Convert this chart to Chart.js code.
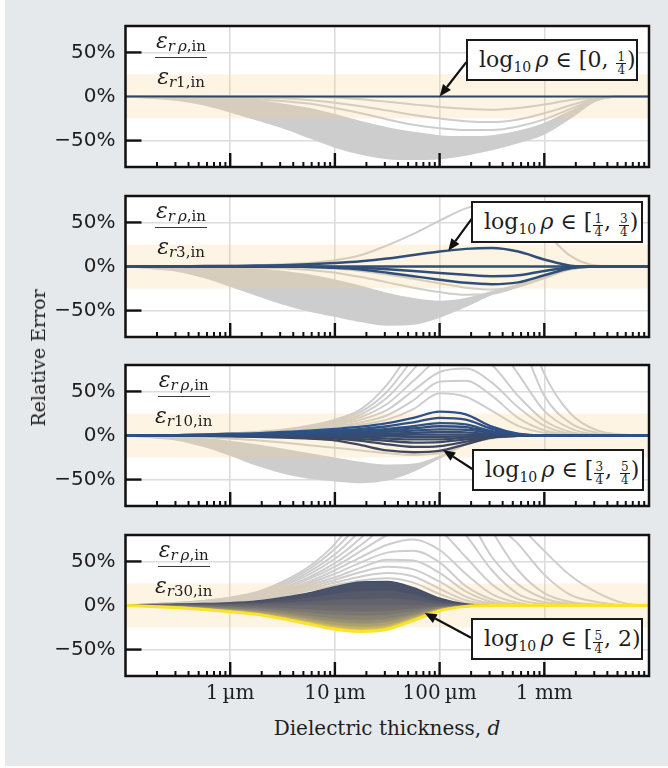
<!DOCTYPE html>
<html>
<head>
<meta charset="utf-8">
<script src="https://cdn.jsdelivr.net/npm/chart.js@4.4.1/dist/chart.umd.min.js"></script>
<style>
  html, body { margin: 0; padding: 0; background: #ffffff; }
  #page { position: relative; width: 668px; height: 768px; overflow: hidden; }
  #sheet { position: absolute; left: 5px; top: 0; width: 663px; height: 766px; background: #e6e9ec; }
  canvas.panel { position: absolute; left: 0; }
  .txt { position: absolute; font-family: 'DejaVu Serif', serif; color: #1e1e1e; white-space: nowrap; z-index: 2; }
  .frac { display: flex; flex-direction: column; align-items: center; }
  .frac .num { font-size: 22px; line-height: 24px; padding: 0 1px 4px 1px; border-bottom: 1.4px solid #3a3a3a; }
  .frac .den { font-size: 22px; line-height: 24px; padding-top: 7px; }
  .frac sub { font-size: 15px; vertical-align: -3px; line-height: 0; }
  .note { background: #fff; border: 2px solid #1a1a1a; font-size: 22px; width: 172px; height: 42px; line-height: 38px; padding: 0 0 0 11px; box-sizing: border-box; }
  .note sub { font-size: 14px; vertical-align: -5px; line-height: 0; }
  .sfrac { display: inline-block; font-size: 12px; line-height: 12px; text-align: center; vertical-align: -7px; margin: 0 1px; }
  .sfrac span { display: block; padding: 0 1px; }
  .sfrac span.n { border-bottom: 1px solid #1e1e1e; }
  #ytitle { font-size: 19px; transform: translate(-50%, -50%) rotate(-90deg); left: 38px; top: 358px; }
  #xtitle { font-size: 20px; transform: translateX(-50%); left: 387px; top: 716px; }
</style>
</head>
<body>
<div id="page">
  <div id="sheet"></div>
</div>
<script>
// Thickness grid (m), quarter-decade steps from 100 nm to 10 mm
const THICKNESS_M = [1e-7, 1.778e-7, 3.162e-7, 5.623e-7, 1e-6, 1.778e-6, 3.162e-6, 5.623e-6,
  1e-5, 1.778e-5, 3.162e-5, 5.623e-5, 1e-4, 1.778e-4, 3.162e-4, 5.623e-4,
  1e-3, 1.778e-3, 3.162e-3, 5.623e-3, 1e-2];

const REFERENCE_RHO = ['1', '3', '10', '30'];
const HIGHLIGHT_FROM = ['0', '1/4', '3/4', '5/4'];
const HIGHLIGHT_TO = ['1/4', '3/4', '5/4', '2'];
const X_TICK_VALUES = [1e-6, 1e-5, 1e-4, 1e-3];
const X_TICK_LABELS = ['1\u2009µm', '10\u2009µm', '100\u2009µm', '1 mm'];
const X_DECADES = [1e-7, 1e-6, 1e-5, 1e-4, 1e-3];
const Y_TICK_VALUES = [-50, 0, 50];
const Y_TICK_LABELS = ['\u221250%', '0%', '50%'];
const TOLERANCE_PCT = [-25, 25];

// Annotation arrows: tip on a highlighted curve, tail at the label box (thickness m, error %)
const ARROW_TIP = [[1e-4, 0], [1.21e-4, 17.8], [1.08e-4, -16.5], [7.2e-5, -8.4]];
const ARROW_TAIL = [[1.8e-4, 39], [2.04e-4, 54.5], [2.05e-4, -38], [2.0e-4, -36.5]];

// ---- Panel 1: reference rho = 1 (relative error, %) ----
const P1_GREY = [
  [0,0,0,0,0,0,0,-0.5,-1,-3,-6,-9,-12,-14,-15,-13,-9,-4,-1,0,0],
  [0,0,0,0,-0.5,-1,-2,-4,-7,-11,-16,-21,-25,-28,-29,-26,-19,-10,-2,0,0],
  [0,0,0,-0.5,-1.5,-3,-5,-8,-13,-19,-26,-32,-36,-38,-38,-34,-26,-14,-3,0,0],
  [0,0,-0.5,-1.5,-3,-5,-9,-14,-21,-29,-36,-41,-45,-46,-45,-40,-31,-17,-3,0,0],
  [0,-0.5,-1,-2.5,-5,-8,-13,-20,-29,-38,-45,-50,-52,-52,-50,-44,-34,-19,-4,0,0],
  [0,-0.5,-1.5,-4,-8,-13,-19,-28,-38,-47,-54,-58,-59,-58,-54,-47,-37,-21,-4,0,0],
  [0,-1,-3,-6,-12,-19,-27,-37,-48,-56,-62,-65,-65,-63,-58,-50,-40,-23,-4,0,0],
  [0,-1.5,-4,-9,-17,-26,-35,-46,-57,-65,-70,-71,-70,-66,-60,-52,-42,-24,-4,0,0]
];
const P1_HIGHLIGHT = [
  [0,0,0,0,0,0,0,0,0,0,0,0,0,0,0,0,0,0,0,0,0]
];

// ---- Panel 2: reference rho = 3 ----
const P2_GREY_UP = [
  [0,0,0,0.5,1,1.5,2.5,4,7,13,24,37,52,66,73,65,40,12,1,0,0]
];
const P2_GREY_LOW = [
  [0,0,0,0,0,0,-0.5,-1,-2.5,-5,-9,-14,-19,-24,-26,-22,-13,-3,0,0,0],
  [0,0,0,0,-0.5,-1,-2,-4,-7,-12,-18,-24,-29,-32,-31,-23,-13,-3,0,0,0],
  [0,0,0,-0.5,-1.5,-3,-6,-10,-16,-23,-31,-37,-40,-37,-29,-21,-12,-3,0,0,0],
  [0,0,-0.5,-2,-4,-8,-13,-20,-29,-39,-47,-51,-49,-41,-30,-21,-11,-3,0,0,0],
  [0,-1,-2.5,-6,-11,-18,-26,-35,-45,-54,-60,-60,-54,-44,-31,-21,-11,-3,0,0,0],
  [0,-2,-5,-12,-22,-32,-42,-50,-56,-62,-66,-65,-57,-45,-31,-21,-11,-3,0,0,0]
];
const P2_HIGHLIGHT = [
  [0,0,0,0,0,0,0,-0.5,-1.5,-3.5,-7,-11,-15,-18.5,-20,-18,-10,-2,0,0,0],
  [0,0,0,0,0,0,0,0,-0.5,-1.5,-3,-5,-7.5,-9.5,-11,-10,-5,-1,0,0,0],
  [0,0,0,0,0,0,0,0,0,0,0,0,0,0,0,0,0,0,0,0,0],
  [0,0,0,0.5,0.5,1,1.5,2.5,4,6,9,13,17,20,21,17,8,1,0,0,0]
];

// ---- Panel 3: reference rho = 10 ----
const P3_GREY_UP = [
  [0,0,0.5,1,1.5,2.5,4,5.5,9,12.5,18,30,48,44,28,11,3,0.5,0,0,0],
  [0,0,0.5,1,1.5,2.5,4.5,6.5,10.5,15,23,40,61,62,45,20,6,1,0,0,0],
  [0,0,0.5,1,2,3,5,7,12,18,29,51,72,76,60,32,11,2,0,0,0],
  [0,0,0.5,1,2,3,5,8,13.5,21,36,62,88,97,80,45,17,4,0.5,0,0],
  [0,0,0.5,1,2,3.5,5.5,9,15,24,43,75,108,125,110,70,28,8,1,0,0],
  [0,0,0.5,1.5,2.5,3.5,6,10,16.5,27,50,88,130,160,160,115,45,14,3,0.5,0],
  [0,0,0.5,1.5,2.5,4,6.5,11,18,30,58,102,155,200,200,150,70,25,6,1,0]
];
const P3_GREY_LOW = [
  [0,-0.5,-1,-2,-3.5,-5.5,-8,-11,-14,-17,-20,-22,-20,-9,-2,0,0,0,0,0,0],
  [0,-1,-2,-4,-7,-11,-16,-21,-26,-31,-34,-33,-24,-10,-2.5,0,0,0,0,0,0],
  [0,-1.5,-3.5,-8,-14,-22,-29,-35,-40,-44,-44,-38,-25,-10,-3,-0.5,0,0,0,0,0],
  [0,-2,-5,-12,-22,-33,-42,-48,-51,-53,-50,-40,-25,-10,-3,-0.5,0,0,0,0,0]
];
const P3_HIGHLIGHT = [
  [0,0,0,-0.5,-1,-1.5,-2.5,-3.5,-5.5,-11,-17,-19,-17.5,-10,-2.5,-0.5,0,0,0,0,0],
  [0,0,0,0,-0.5,-1,-1.5,-2.5,-3.5,-6,-10,-13,-12,-7,-2,-0.5,0,0,0,0,0],
  [0,0,0,0,-0.5,-0.5,-1,-1.5,-2.5,-4,-6,-8,-7.5,-4.5,-1.5,0,0,0,0,0,0],
  [0,0,0,0,0,-0.5,-0.5,-1,-1.5,-2,-3.5,-4.5,-4.5,-2.5,-1,0,0,0,0,0,0],
  [0,0,0,0,0,0,0,0,-0.5,-0.5,-1,-1.5,-1.5,-1,0,0,0,0,0,0,0],
  [0,0,0,0,0,0,0,0,0.5,0.5,0.5,1,1,1,0.5,0,0,0,0,0,0],
  [0,0,0,0,0,0.5,0.5,1,1,1.5,2,3,4,3.5,1.5,0.5,0,0,0,0,0],
  [0,0,0,0,0.5,1,1,1.5,2,3,4,5.5,7,6.5,3,0.5,0,0,0,0,0],
  [0,0,0,0.5,1,1,1.5,2,3,4,5.5,8,10.5,9.5,4,1,0,0,0,0,0],
  [0,0,0,0.5,1,1.5,2,3,4,5.5,7.5,10.5,14,12.5,5,1,0,0,0,0,0],
  [0,0,0.5,1,1.5,2,3,4,5.5,7.5,10.5,15,20,18,7.5,1.5,0,0,0,0,0],
  [0,0,0.5,1,2,2.5,4,5.5,7.5,10,14,20,27,24,10,2,0,0,0,0,0]
];
const P3_COLORS = ['#41485d', '#3f4860', '#3d4964', '#3b4a68', '#394b6c', '#374c70',
  '#354d74', '#334e78', '#314f7c', '#2f5080', '#2d5184', '#2b5288'];

// ---- Panel 4: reference rho = 30 ----
const P4_GREY_UP = [
  [0,1,1.5,3,4.5,7,11,17,23,28.5,31,26,13,3,0.5,0,0,0,0,0,0],
  [0,1,2,3,5,8,12.5,19,26,33,37,33,19,6,1,0,0,0,0,0,0],
  [0,1,2,3.5,5.5,9,14,21,29,38,44,41,27,10,2,0,0,0,0,0,0],
  [0,1,2,3.5,6,9.5,15,23,32,43,52,51,37,16,4,0.5,0,0,0,0,0],
  [0,1,2,4,6.5,10,16,25,36,49,60,62,49,22,7,1,0,0,0,0,0],
  [0,1,2,4,7,11,17.5,27,40,55,69,75,63,36,13,3,0,0,0,0,0],
  [0,1,2.5,4,7,11.5,19,30,44,62,80,92,85,55,24,7,1.5,0,0,0,0],
  [0,1,2.5,4.5,7.5,12,20,32,48,69,92,110,110,80,40,13,4,1,0,0,0],
  [0,1,2.5,4.5,8,13,22,35,53,77,106,130,135,105,55,24,8,2,0,0,0],
  [0,1.5,2.5,5,8,14,23,38,58,86,120,152,165,140,85,40,14,4,1,0,0],
  [0,1.5,3,5,8.5,14,25,41,64,96,138,178,195,170,100,70,35,12,4,0.5,0],
  [0,1.5,3,5,9,15,27,44,70,110,160,210,230,200,150,95,62,34,15,3,0]
];
const P4_HIGHLIGHT = [
  [0,1,1.5,2,3,5,9,14,21,26.5,27,20,8,1.5,0,0,0,0,0,0,0],
  [0,0.5,1,1.5,2,3,5.5,8.5,13,16,16.5,12,4.5,1,0,0,0,0,0,0,0],
  [0,0,0.5,0.5,1,1.5,2.5,4,6,7,7.5,5.5,2,0.5,0,0,0,0,0,0,0],
  [0,0,0,0,0,0,0,0,0,0,0,0,0,0,0,0,0,0,0,0,0],
  [0,0,-0.5,-1,-1.5,-2.5,-3.5,-5,-6.5,-7,-6.5,-4,-1.5,-0.5,0,0,0,0,0,0,0],
  [0,-0.5,-1,-2,-3,-4,-6,-8.5,-11,-12,-11,-7,-2.5,-0.5,0,0,0,0,0,0,0],
  [0,-0.5,-1.5,-2.5,-4,-6,-8.5,-12,-15.5,-17,-15.5,-10,-3.5,-0.5,0,0,0,0,0,0,0],
  [0,-0.5,-1.5,-3,-5,-7,-10.5,-15,-19,-21,-19,-12,-4,-1,0,0,0,0,0,0,0],
  [0,-1,-2,-3.5,-6,-8.5,-12.5,-17.5,-22.5,-24.5,-22.5,-14,-5,-1,0,0,0,0,0,0,0],
  [0,-1,-2,-4,-6.5,-9.5,-14,-19.5,-25,-27.5,-25,-15.5,-5.5,-1,0,0,0,0,0,0,0],
  [0,-1,-2.5,-4.5,-7,-10,-15,-21,-27,-29.5,-27,-17,-6,-1,0,0,0,0,0,0,0]
];
const P4_COLORS = ['#434d69', '#505569', '#5c5e6b', '#67666d', '#74716f', '#817d72',
  '#908873', '#a29773', '#b8a96a', '#d4c155', '#fbe22c'];
const P4_FILLS = ['#4a5269', '#56596a', '#61626c', '#6d6b6e', '#7a7671', '#888273',
  '#988f73', '#aca06f', '#c4b563', '#e6d140'];

const GREY = '#cdcdcd';
const PANEL_TOP = [26, 195.5, 365, 534.5];
const PLOT_H = 141;

function series(values, color, width, extra) {
  return Object.assign({
    data: THICKNESS_M.map((x, i) => ({ x: x, y: values[i] })),
    borderColor: color,
    backgroundColor: color,
    borderWidth: width,
    pointRadius: 0,
    fill: false,
    cubicInterpolationMode: 'monotone'
  }, extra || {});
}

// White plot face, tolerance band, inside ticks, arrows and frame
const panelDecor = {
  id: 'panelDecor',
  beforeDraw(chart) {
    const { ctx, chartArea: a } = chart;
    ctx.save();
    ctx.fillStyle = '#ffffff';
    ctx.fillRect(a.left, a.top, a.right - a.left, a.bottom - a.top);
    ctx.restore();
  },
  afterDatasetDraw(chart, args, opts) {
    if (args.index !== opts.bandAfter) return;
    const { ctx, chartArea: a, scales: { y } } = chart;
    const yTop = y.getPixelForValue(TOLERANCE_PCT[1]);
    const yBot = y.getPixelForValue(TOLERANCE_PCT[0]);
    ctx.save();
    ctx.fillStyle = 'rgba(245, 205, 130, 0.22)';
    ctx.fillRect(a.left, yTop, a.right - a.left, yBot - yTop);
    ctx.restore();
  },
  afterDraw(chart, args, opts) {
    const { ctx, chartArea: a, scales: { x, y } } = chart;
    ctx.save();
    ctx.strokeStyle = '#111111';
    ctx.fillStyle = '#111111';
    // thickness ticks along the bottom, pointing inwards
    X_DECADES.forEach(dec => {
      for (let m = 1; m <= 9; m++) {
        const v = dec * m;
        if (v <= x.min * 1.0001 || v >= x.max * 0.9999) continue;
        const px = x.getPixelForValue(v);
        ctx.lineWidth = m === 1 ? 2.4 : 2;
        ctx.beginPath();
        ctx.moveTo(px, a.bottom);
        ctx.lineTo(px, a.bottom - (m === 1 ? 14 : 5));
        ctx.stroke();
      }
    });
    // error ticks on the left, pointing inwards
    [-50, 50].forEach(v => {
      const py = y.getPixelForValue(v);
      ctx.lineWidth = 2.4;
      ctx.beginPath();
      ctx.moveTo(a.left, py);
      ctx.lineTo(a.left + 16, py);
      ctx.stroke();
    });
    // arrow from label box to the highlighted curve
    const tx = x.getPixelForValue(opts.tip[0]), ty = y.getPixelForValue(opts.tip[1]);
    const sx = x.getPixelForValue(opts.tail[0]), sy = y.getPixelForValue(opts.tail[1]);
    const ang = Math.atan2(ty - sy, tx - sx);
    const head = 12, half = 5;
    const bx = tx - head * Math.cos(ang), by = ty - head * Math.sin(ang);
    ctx.lineWidth = 2.2;
    ctx.beginPath();
    ctx.moveTo(sx, sy);
    ctx.lineTo(bx, by);
    ctx.stroke();
    ctx.beginPath();
    ctx.moveTo(tx, ty);
    ctx.lineTo(bx + half * Math.sin(ang), by - half * Math.cos(ang));
    ctx.lineTo(bx - half * Math.sin(ang), by + half * Math.cos(ang));
    ctx.closePath();
    ctx.fill();
    // frame
    ctx.lineWidth = 2.5;
    ctx.strokeRect(a.left, a.top, a.right - a.left, a.bottom - a.top);
    ctx.restore();
  }
};

function buildPanel(k, datasets, bandAfter) {
  const last = k === 3;
  const h = 10 + PLOT_H + (last ? 36 : 10);
  const canvas = document.createElement('canvas');
  canvas.className = 'panel';
  canvas.width = 668;
  canvas.height = h;
  canvas.style.width = '668px';
  canvas.style.height = h + 'px';
  canvas.style.top = (PANEL_TOP[k] - 10) + 'px';
  document.getElementById('page').appendChild(canvas);
  datasets.forEach((d, i) => { d.order = -i; });
  return new Chart(canvas, {
    type: 'line',
    data: { datasets: datasets },
    options: {
      responsive: false,
      animation: false,
      devicePixelRatio: 1,
      layout: { padding: { top: 10, right: 19, bottom: last ? 0 : 10, left: 0 } },
      plugins: {
        legend: { display: false },
        tooltip: { enabled: false },
        panelDecor: { bandAfter: bandAfter, tip: ARROW_TIP[k], tail: ARROW_TAIL[k] }
      },
      scales: {
        x: {
          type: 'logarithmic',
          min: 1e-7,
          max: 1e-2,
          afterFit: s => { s.height = last ? 36 : 0; s.paddingLeft = 0; s.paddingRight = 0; },
          afterBuildTicks: s => { s.ticks = X_TICK_VALUES.map(v => ({ value: v })); },
          grid: { color: '#dcdcdc', lineWidth: 1.6, drawTicks: false },
          border: { display: false },
          ticks: {
            display: last,
            autoSkip: false,
            maxRotation: 0,
            padding: 6,
            color: '#1e1e1e',
            font: { family: "'DejaVu Serif', serif", size: 20 },
            callback: v => X_TICK_LABELS[X_TICK_VALUES.indexOf(v)]
          }
        },
        y: {
          min: -80,
          max: 80,
          afterFit: s => { s.width = 125.5; s.paddingTop = 0; s.paddingBottom = 0; },
          afterBuildTicks: s => { s.ticks = Y_TICK_VALUES.map(v => ({ value: v })); },
          grid: { color: '#dcdcdc', lineWidth: 1.6, drawTicks: false },
          border: { display: false },
          ticks: {
            padding: 10,
            color: '#1e1e1e',
            font: { family: "'DejaVu Sans', sans-serif", size: 20 },
            callback: v => Y_TICK_LABELS[Y_TICK_VALUES.indexOf(v)]
          }
        }
      }
    },
    plugins: [panelDecor]
  });
}

// Panel 1
(function () {
  const ds = P1_GREY.map(v => series(v, GREY, 2));
  ds[7].fill = 3;
  const band = ds.length - 1;
  P1_HIGHLIGHT.forEach(v => ds.push(series(v, '#2d4866', 2.2)));
  buildPanel(0, ds, band);
})();

// Panel 2
(function () {
  const ds = P2_GREY_UP.map(v => series(v, GREY, 2));
  P2_GREY_LOW.forEach(v => ds.push(series(v, GREY, 2)));
  ds[ds.length - 1].fill = 3;
  const band = ds.length - 1;
  P2_HIGHLIGHT.forEach(v => ds.push(series(v, '#2f4f78', 2.5)));
  buildPanel(1, ds, band);
})();

// Panel 3
(function () {
  const ds = P3_GREY_UP.map(v => series(v, GREY, 2));
  const lowStart = ds.length;
  P3_GREY_LOW.forEach(v => ds.push(series(v, GREY, 2)));
  ds[ds.length - 1].fill = lowStart + 1;
  const band = ds.length - 1;
  P3_HIGHLIGHT.forEach((v, i) => ds.push(series(v, P3_COLORS[i], 2.3)));
  buildPanel(2, ds, band);
})();

// Panel 4
(function () {
  const ds = P4_GREY_UP.map(v => series(v, GREY, 2));
  const band = ds.length - 1;
  const first = ds.length;
  P4_HIGHLIGHT.forEach((v, i) => {
    const last = i === P4_HIGHLIGHT.length - 1;
    const d = series(v, P4_COLORS[i], last ? 3 : 1.8);
    if (i > 0) { d.fill = first + i - 1; d.backgroundColor = P4_FILLS[i - 1]; }
    ds.push(d);
  });
  buildPanel(3, ds, band);
})();

// Text: ratio labels, range notes, axis titles
function fracHtml(s) {
  if (s.indexOf('/') < 0) return s;
  const p = s.split('/');
  return '<span class="sfrac"><span class="n">' + p[0] + '</span><span>' + p[1] + '</span></span>';
}
const page = document.getElementById('page');
const NOTE_LEFT = [466, 471, 472, 471];
const NOTE_TOP = [39, 201, 449, 618];
for (let k = 0; k < 4; k++) {
  const f = document.createElement('div');
  f.className = 'txt frac';
  f.style.left = '155px';
  f.style.top = (PANEL_TOP[k] + 3) + 'px';
  f.innerHTML = '<div class="num"><i>ε</i><sub><i>r\u2009ρ</i>,in</sub></div>' +
    '<div class="den"><i>ε</i><sub><i>r</i>' + REFERENCE_RHO[k] + ',in</sub></div>';
  page.appendChild(f);

  const n = document.createElement('div');
  n.className = 'txt note';
  n.style.left = NOTE_LEFT[k] + 'px';
  n.style.top = NOTE_TOP[k] + 'px';
  n.innerHTML = 'log<sub>10</sub>\u2009<i>ρ</i> ∈ [' + fracHtml(HIGHLIGHT_FROM[k]) + ', ' + fracHtml(HIGHLIGHT_TO[k]) + ')';
  page.appendChild(n);
}
const yt = document.createElement('div');
yt.className = 'txt';
yt.id = 'ytitle';
yt.textContent = 'Relative Error';
page.appendChild(yt);
const xt = document.createElement('div');
xt.className = 'txt';
xt.id = 'xtitle';
xt.innerHTML = 'Dielectric thickness, <i>d</i>';
page.appendChild(xt);
</script>
</body>
</html>
